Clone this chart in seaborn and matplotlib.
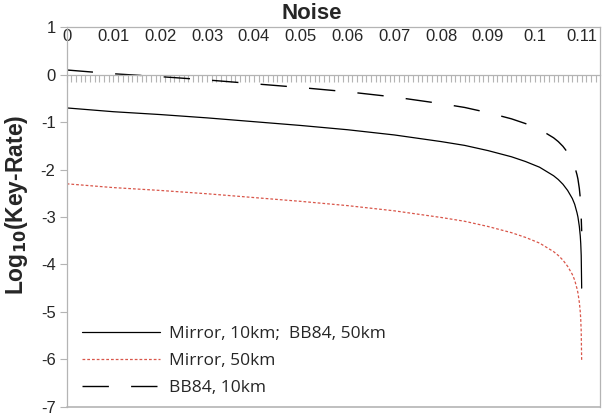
import numpy as np
import pandas as pd
import matplotlib
matplotlib.use('Agg')
import matplotlib.pyplot as plt
from matplotlib.ticker import MultipleLocator
import seaborn as sns

# values
noise = [0.0, 0.01, 0.02, 0.03, 0.04, 0.05, 0.06, 0.07, 0.075, 0.08, 0.085, 0.09, 0.095, 0.098,
         0.10, 0.101, 0.103, 0.104, 0.105, 0.106, 0.107, 0.108, 0.1085, 0.109, 0.1092,
         0.1095, 0.1097, 0.1098, 0.1099, 0.1100]
mirror_10km = [-0.70, -0.78, -0.84, -0.91, -0.99, -1.07, -1.16, -1.27, -1.34, -1.41, -1.49,
               -1.60, -1.73, -1.83, -1.91, -1.95, -2.07, -2.13, -2.21, -2.31, -2.44, -2.61,
               -2.73, -2.91, -3.00, -3.20, -3.40, -3.56, -3.81, -4.50]
mirror_50km = [-2.30, -2.38, -2.44, -2.51, -2.59, -2.67, -2.76, -2.87, -2.94, -3.01, -3.09,
               -3.20, -3.33, -3.43, -3.51, -3.55, -3.67, -3.73, -3.81, -3.91, -4.04, -4.21,
               -4.33, -4.51, -4.60, -4.80, -5.00, -5.16, -5.41, -6.05]
bb84_10km = [0.10, 0.02, -0.04, -0.11, -0.19, -0.27, -0.36, -0.47, -0.54, -0.61, -0.69,
             -0.80, -0.93, -1.03, -1.11, -1.15, -1.27, -1.33, -1.41, -1.51, -1.64, -1.81,
             -1.93, -2.11, -2.20, -2.40, -2.60, -2.76, -3.01, -3.30]

labels = ['Mirror, 10km;  BB84, 50km', 'Mirror, 50km', 'BB84, 10km']
xtick_vals = [0, 0.01, 0.02, 0.03, 0.04, 0.05, 0.06, 0.07, 0.08, 0.09, 0.1, 0.11]
xtick_labels = ['0', '0.01', '0.02', '0.03', '0.04', '0.05', '0.06', '0.07', '0.08', '0.09', '0.1', '0.11']

sns.set_style('white')
plt.rcParams['font.family'] = ['Liberation Sans', 'DejaVu Sans']
plt.rcParams['axes.unicode_minus'] = False

fig = plt.figure(figsize=(6.06, 4.18), dpi=100)
ax = fig.add_axes([0.110, 0.027, 0.880, 0.9077])

grey = '#b4b4b4'

sns.lineplot(x=noise, y=mirror_10km, ax=ax, color='black', linewidth=0.9, label=labels[0])
sns.lineplot(x=noise, y=mirror_50km, ax=ax, color='#d9564a', linewidth=0.9, label=labels[1])
sns.lineplot(x=noise, y=bb84_10km, ax=ax, color='black', linewidth=1.0, label=labels[2])
ax.lines[1].set_dashes((2.2, 1.6))
ax.lines[2].set_dashes((19, 16))

ax.set_xlim(0, 0.1139)
ax.set_ylim(-7, 1)
ax.set_yticks(range(-7, 2))
ax.set_xticks(xtick_vals)
ax.set_xticklabels(xtick_labels)
ax.xaxis.set_minor_locator(MultipleLocator(0.001))

# x axis crosses at zero, labels shown at the top inside the frame
ax.spines['bottom'].set_position(('data', 0))
for s in ax.spines.values():
    s.set_color(grey)
    s.set_linewidth(0.9)
ax.axhline(-7, color=grey, linewidth=1.2, clip_on=False)

ax.tick_params(axis='x', which='both', bottom=True, top=False, labelbottom=False, labeltop=True,
               direction='out', length=5, width=0.8, color=grey, pad=-17, labelsize=12)
ax.tick_params(axis='y', left=True, direction='out', length=5, width=0.8, color=grey,
               pad=3, labelsize=12)

ax.set_title('Noise', fontsize=16, fontweight='bold', x=0.46, pad=6)
ax.set_xlabel('')
ax.set_ylabel(r'Log$_{\mathbf{10}}$(Key-Rate)', fontsize=16.5, fontweight='bold')
ax.yaxis.set_label_coords(-0.068, 0.532)

ax.legend(loc='upper left', bbox_to_anchor=(0.028, 0.214), frameon=False, borderpad=0,
          borderaxespad=0, handlelength=4.5, handletextpad=0.55, labelspacing=0.64,
          prop={'family': 'Open Sans', 'size': 12.5})

plt.savefig('out.png', dpi=100)
